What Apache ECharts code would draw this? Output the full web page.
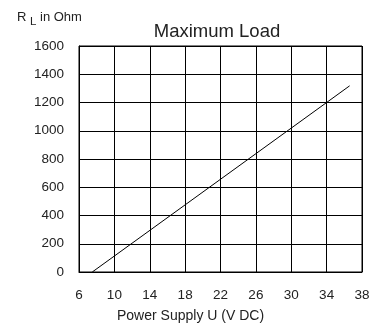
<!DOCTYPE html>
<html>
<head>
<meta charset="utf-8">
<script src="https://cdn.jsdelivr.net/npm/echarts@6/dist/echarts.min.js"></script>
<style>
html,body{margin:0;padding:0;background:#fff;}
#c{width:375px;height:325px;}
</style>
</head>
<body>
<div id="c"></div>
<script>
var title = 'Maximum Load';
var xName = 'Power Supply U (V DC)';
var supplyVoltage = [7.5, 34, 36.6];
var maxLoad = [0, 1200, 1318];

var chart = echarts.init(document.getElementById('c'), null, {renderer: 'canvas'});
var font = '"Liberation Sans", Arial, sans-serif';
var txt = '#222';
chart.setOption({
  animation: false,
  backgroundColor: '#fff',
  grid: {left: 79, right: 13, top: 46, bottom: 53, show: true, borderColor: '#000', borderWidth: 1},
  graphic: [
    {type: 'text', x: 217, y: 22, style: {
      text: title, fontFamily: font, fontSize: 18.5, fill: txt, align: 'center', verticalAlign: 'top'
    }},
    {type: 'text', left: 17, top: 11, style: {
      text: 'R {s|L} in Ohm', fontFamily: font, fontSize: 13, fill: txt,
      rich: {s: {fontFamily: font, fontSize: 11.5, fill: txt, padding: [8, 0, 0, 0]}}
    }},
    {type: 'text', left: 117, top: 309, style: {
      text: xName, fontFamily: font, fontSize: 14, fill: txt
    }}
  ],
  xAxis: {
    type: 'value', min: 6, max: 38, interval: 4,
    axisLine: {show: true, lineStyle: {color: '#000', width: 1}},
    axisTick: {show: false},
    splitLine: {show: true, lineStyle: {color: '#000', width: 1}},
    axisLabel: {fontFamily: font, fontSize: 13.5, color: txt, margin: 16}
  },
  yAxis: {
    type: 'value', min: 0, max: 1600, interval: 200,
    axisLine: {show: true, lineStyle: {color: '#000', width: 1}},
    axisTick: {show: false},
    splitLine: {show: true, lineStyle: {color: '#000', width: 1}},
    axisLabel: {fontFamily: font, fontSize: 13.5, color: txt, margin: 15,
      formatter: function (v) { return String(v); }}
  },
  series: [{
    type: 'line',
    data: supplyVoltage.map(function (u, i) { return [u, maxLoad[i]]; }),
    symbol: 'none',
    lineStyle: {color: '#000', width: 1}
  }]
});
</script>
</body>
</html>
